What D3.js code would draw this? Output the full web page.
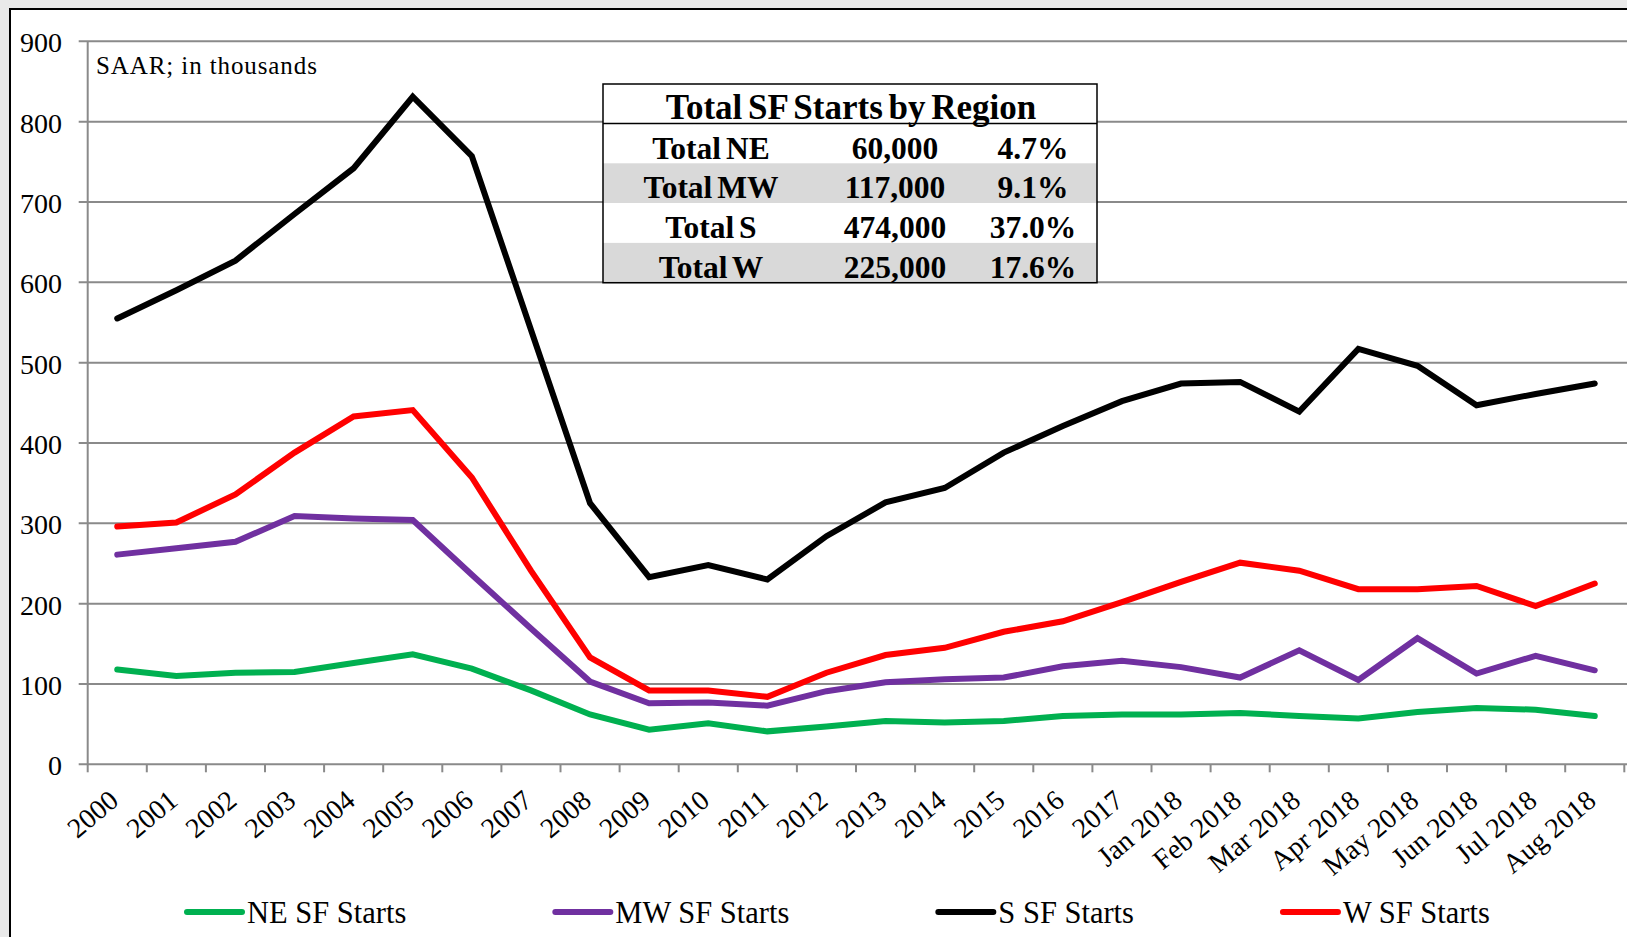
<!DOCTYPE html>
<html>
<head>
<meta charset="utf-8">
<script src="https://cdn.jsdelivr.net/npm/d3@7"></script>
<style>
	html, body { margin: 0; padding: 0; background: #e9e9e9; }
	svg { display: block; }
	text { font-family: "Liberation Serif", "Times New Roman", serif; fill: #000; }
</style>
</head>
<body>
<svg id="chart"></svg>
<script>
const categories = ['2000', '2001', '2002', '2003', '2004', '2005', '2006', '2007', '2008', '2009',
	'2010', '2011', '2012', '2013', '2014', '2015', '2016', '2017',
	'Jan 2018', 'Feb 2018', 'Mar 2018', 'Apr 2018', 'May 2018', 'Jun 2018', 'Jul 2018', 'Aug 2018'];

const neStarts = [118, 110, 114, 115, 126, 137, 119, 92, 62, 43, 51, 41, 47, 54, 52, 54, 60, 62,
	62, 64, 60, 57, 65, 70, 68, 60];
const mwStarts = [261, 269, 277, 309, 306, 304, 236, 169, 103, 76, 77, 73, 91, 102, 106, 108, 122, 129,
	121, 108, 142, 105, 157, 113, 135, 117];
const sStarts = [555, 590, 627, 685, 742, 831, 757, 541, 325, 233, 248, 230, 284, 326, 344, 388, 421, 452,
	474, 476, 439, 517, 496, 447, 461, 474];
const wStarts = [296, 301, 336, 388, 433, 441, 357, 241, 133, 92, 92, 84, 114, 136, 145, 165, 178, 202,
	227, 251, 241, 218, 218, 222, 197, 225];

const seriesNames = ['NE SF Starts', 'MW SF Starts', 'S SF Starts', 'W SF Starts'];
const seriesColors = ['#00b050', '#7030a0', '#000000', '#ff0000'];
const yTicks = [0, 100, 200, 300, 400, 500, 600, 700, 800, 900];

const tableTitle = 'Total SF Starts by Region';
const tableLabels = ['Total NE', 'Total MW', 'Total S', 'Total W'];
const tableValues = ['60,000', '117,000', '474,000', '225,000'];
const tablePercents = ['4.7%', '9.1%', '37.0%', '17.6%'];

const fullWidth = 1627;
const fullHeight = 937;
const plot = { left: 87.7, right: 1624.3, top: 41.3, bottom: 764.3 };

const svg = d3.select('#chart').attr('width', fullWidth).attr('height', fullHeight);

// white chart area with black frame (runs off the right and bottom)
svg.append('rect')
	.attr('x', 10).attr('y', 9)
	.attr('width', fullWidth + 20).attr('height', fullHeight + 20)
	.attr('fill', '#fff')
	.attr('stroke', '#000')
	.attr('stroke-width', 2);

const x = d3.scaleBand().domain(categories).range([plot.left, plot.right]).padding(0);
const y = d3.scaleLinear().domain([0, 900]).range([plot.bottom, plot.top]);
const cx = c => x(c) + x.bandwidth() / 2;

const gridColor = '#8a8a8a';

// gridlines + y ticks
svg.append('g')
	.selectAll('line')
	.data(yTicks)
	.join('line')
	.attr('x1', plot.left - 9)
	.attr('x2', plot.right + 5)
	.attr('y1', d => y(d))
	.attr('y2', d => y(d))
	.attr('stroke', gridColor)
	.attr('stroke-width', 2);

// y axis line
svg.append('line')
	.attr('x1', plot.left).attr('x2', plot.left)
	.attr('y1', plot.top).attr('y2', plot.bottom)
	.attr('stroke', gridColor).attr('stroke-width', 2);

// x ticks at category boundaries
const boundaries = categories.map(c => x(c)).concat([plot.right]);
svg.append('g')
	.selectAll('line')
	.data(boundaries)
	.join('line')
	.attr('x1', d => d).attr('x2', d => d)
	.attr('y1', plot.bottom).attr('y2', plot.bottom + 8)
	.attr('stroke', gridColor).attr('stroke-width', 2);

// y tick labels
svg.append('g')
	.selectAll('text')
	.data(yTicks)
	.join('text')
	.attr('x', 62)
	.attr('y', d => y(d) + 11)
	.attr('text-anchor', 'end')
	.style('font-size', '28px')
	.text(d => d);

// x tick labels
svg.append('g')
	.selectAll('text')
	.data(categories)
	.join('text')
	.attr('transform', d => `translate(${cx(d) + 3},${plot.bottom + 39}) rotate(-40)`)
	.attr('text-anchor', 'end')
	.style('font-size', '28px')
	.text(d => d);

svg.append('text')
	.attr('x', 96)
	.attr('y', 74)
	.style('font-size', '25px')
	.style('letter-spacing', '0.9px')
	.text('SAAR; in thousands');

// series lines
const allSeries = [neStarts, mwStarts, sStarts, wStarts];
const line = d3.line()
	.x((d, i) => cx(categories[i]))
	.y(d => y(d));

svg.append('g')
	.selectAll('path')
	.data(allSeries)
	.join('path')
	.attr('d', d => line(d))
	.attr('fill', 'none')
	.attr('stroke', (d, i) => seriesColors[i])
	.attr('stroke-width', 6)
	.attr('stroke-linejoin', 'miter')
	.attr('stroke-linecap', 'round');

// summary table
const table = { left: 603, right: 1097, top: 84, headH: 39.5, rowH: 39.8 };
const tg = svg.append('g');
tg.append('rect')
	.attr('x', table.left).attr('y', table.top)
	.attr('width', table.right - table.left)
	.attr('height', table.headH + table.rowH * tableLabels.length)
	.attr('fill', '#fff');
tg.selectAll('rect.row')
	.data(tableLabels)
	.join('rect')
	.attr('class', 'row')
	.attr('x', table.left)
	.attr('y', (d, i) => table.top + table.headH + i * table.rowH)
	.attr('width', table.right - table.left)
	.attr('height', table.rowH)
	.attr('fill', (d, i) => i % 2 === 1 ? '#d9d9d9' : '#fff');
tg.append('rect')
	.attr('x', table.left).attr('y', table.top)
	.attr('width', table.right - table.left)
	.attr('height', table.headH + table.rowH * tableLabels.length)
	.attr('fill', 'none')
	.attr('stroke', '#000')
	.attr('stroke-width', 1.5);
tg.append('line')
	.attr('x1', table.left).attr('x2', table.right)
	.attr('y1', table.top + table.headH).attr('y2', table.top + table.headH)
	.attr('stroke', '#000').attr('stroke-width', 1.5);
tg.append('text')
	.attr('x', 851)
	.attr('y', table.top + 35)
	.attr('text-anchor', 'middle')
	.style('font-size', '35px')
	.style('font-weight', 'bold')
	.style('word-spacing', '-3px')
	.text(tableTitle);

const columns = [
	{ values: tableLabels, cx: 711 },
	{ values: tableValues, cx: 895 },
	{ values: tablePercents, cx: 1033 }
];
columns.forEach(col => {
	tg.append('g')
		.selectAll('text')
		.data(col.values)
		.join('text')
		.attr('x', col.cx)
		.attr('y', (d, i) => table.top + table.headH + i * table.rowH + 35)
		.attr('text-anchor', 'middle')
		.style('font-size', '31.5px')
		.style('font-weight', 'bold')
		.style('word-spacing', '-3px')
		.text(d => d);
});

// legend
const legendY = 912;
let lx = 187;
seriesNames.forEach((name, i) => {
	const lg = svg.append('g');
	lg.append('line')
		.attr('x1', lx).attr('x2', lx + 55)
		.attr('y1', legendY).attr('y2', legendY)
		.attr('stroke', seriesColors[i])
		.attr('stroke-width', 6)
		.attr('stroke-linecap', 'round');
	const t = lg.append('text')
		.attr('x', lx + 60)
		.attr('y', legendY + 11)
		.style('font-size', '30.5px')
		.text(name);
	lx = lx + 60 + t.node().getComputedTextLength() + 149;
});
</script>
</body>
</html>
